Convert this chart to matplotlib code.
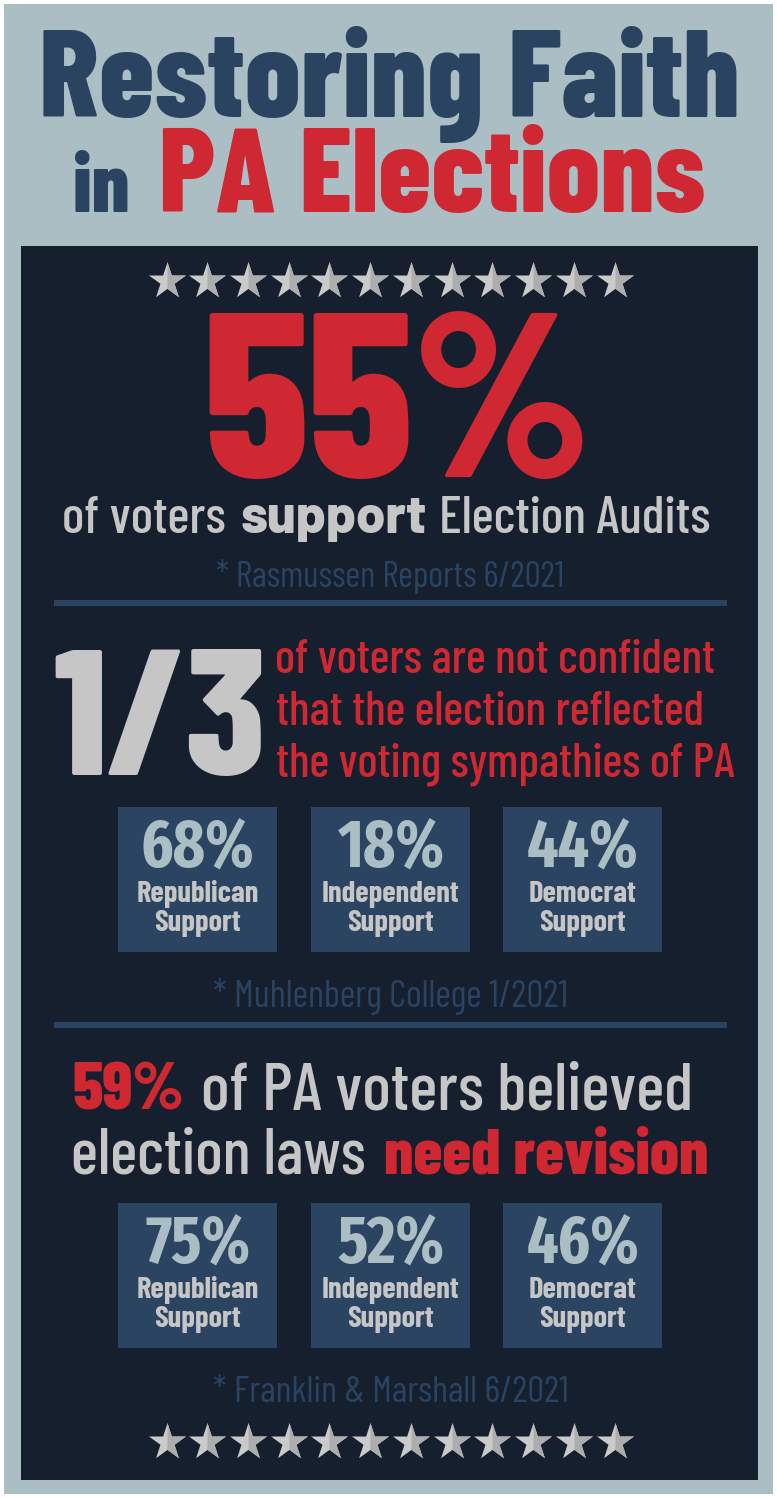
import matplotlib
matplotlib.use('Agg')
import matplotlib.pyplot as plt
import numpy as np
from matplotlib import font_manager as fm
from matplotlib.font_manager import FontProperties
from matplotlib.textpath import TextPath
from matplotlib.path import Path
from matplotlib.patches import Rectangle

# ---- content ----
title_top = "Restoring Faith"
title_in = "in"
title_red = "PA Elections"
audit_share = "55%"
audit_source = "* Rasmussen Reports 6/2021"
confidence_share = "1/3"
confidence_lines = ["of voters are not confident",
                    "that the election reflected",
                    "the voting sympathies of PA"]
parties = ["Republican", "Independent", "Democrat"]
confidence_pct = [68, 18, 44]
confidence_source = "* Muhlenberg College 1/2021"
revision_share = 59
revision_pct = [75, 52, 46]
revision_source = "* Franklin & Marshall 6/2021"
n_stars = 12

# ---- colours ----
BG = '#abbec4'
PANEL = '#161f2e'
NAVY = '#2a4361'
RED = '#cf2832'
GRAY = '#c6c6c6'
BOX = '#2b4462'

PX = 100 / 72  # pixels per point
avail = {f.name for f in fm.fontManager.ttflist}


def pick(*names):
    for n in names:
        if n in avail:
            return n
    return 'DejaVu Sans'


HEAVY = pick('Barlow Condensed', 'Roboto Condensed')
BODY = pick('Barlow Condensed', 'Roboto Condensed')
PCT = pick('Fira Sans Extra Condensed', 'Barlow Condensed', 'Roboto Condensed')
LABEL = pick('Barlow Condensed', 'Roboto Condensed')
WIDE = pick('Barlow', 'Lato')


def ink(s, family, weight):
    """ink box of a string at size 10 (points)"""
    fp = FontProperties(family=family, weight=weight)
    return TextPath((0, 0), s, size=10, prop=fp).get_extents()


def fit_fs(s, w, h, family, weight, a=0.75):
    # weighted mix of the width fit and the height fit
    bb = ink(s, family, weight)
    fw = 10 * w / (bb.width * PX)
    fh = 10 * h / (bb.y1 * PX)
    return fw ** a * fh ** (1 - a)


fig = plt.figure(figsize=(7.77, 14.98), dpi=100, facecolor='white')
ax = fig.add_axes([0, 0, 1, 1])
ax.set_xlim(0, 777)
ax.set_ylim(1498, 0)
ax.axis('off')

ax.add_patch(Rectangle((4, 4), 769, 1490, color=BG, lw=0))
ax.add_patch(Rectangle((21, 246), 737, 1234, color=PANEL, lw=0))


def draw(s, x, base, fs, color, weight, family, align='center'):
    bb = ink(s, family, weight)
    k = PX * fs / 10
    left = x - bb.width * k / 2 if align == 'center' else x
    ax.text(left - bb.x0 * k, base, s, color=color, fontsize=fs, fontweight=weight,
            family=family, ha='left', va='baseline')


def fit_draw(s, x0, x1, top, base, color, weight, family, align='center', a=0.75):
    fs = fit_fs(s, x1 - x0, base - top, family, weight, a)
    draw(s, (x0 + x1) / 2 if align == 'center' else x0, base, fs, color, weight,
         family, align)
    return fs


def rich_line(parts, x0, x1, top, base, gap=3.3, a=0.85):
    # parts: (text, colour, weight, family); gap in size-10 units (~0.33 em)
    boxes = [ink(s, f, w) for s, c, w, f in parts]
    cur, lefts = 0.0, []
    for i, bb in enumerate(boxes):
        if i:
            cur += gap
        lefts.append(cur)
        cur += bb.width
    total_h = max(bb.y1 for bb in boxes)
    fw = 10 * (x1 - x0) / (cur * PX)
    fh = 10 * (base - top) / (total_h * PX)
    fs = fw ** a * fh ** (1 - a)
    k = PX * fs / 10
    start = (x0 + x1) / 2 - cur * k / 2
    for (s, c, w, f), bb, l in zip(parts, boxes, lefts):
        ax.text(start + l * k - bb.x0 * k, base, s, color=c, fontsize=fs,
                fontweight=w, family=f, ha='left', va='baseline')


# star markers (full star + right half for shading)
ang_out = np.deg2rad(90 + 72 * np.arange(5))
ang_in = np.deg2rad(90 + 36 + 72 * np.arange(5))
r_in = 0.38
pts = []
for a, b in zip(ang_out, ang_in):
    pts.append((np.cos(a), np.sin(a)))
    pts.append((r_in * np.cos(b), r_in * np.sin(b)))
pts.append(pts[0])
star_full = Path(pts, closed=True)
half = [(0, 1),
        (r_in * np.cos(np.deg2rad(54)), r_in * np.sin(np.deg2rad(54))),
        (np.cos(np.deg2rad(18)), np.sin(np.deg2rad(18))),
        (r_in * np.cos(np.deg2rad(-18)), r_in * np.sin(np.deg2rad(-18))),
        (np.cos(np.deg2rad(-54)), np.sin(np.deg2rad(-54))),
        (0, -r_in), (0, 1)]
star_half = Path(half, closed=True)


def star_row(y):
    xs = np.linspace(166.5, 614.5, n_stars)
    ys = np.full(n_stars, y)
    ax.scatter(xs, ys, s=28 ** 2, marker=star_full, color='#cacaca', lw=0, zorder=3)
    ax.scatter(xs, ys, s=28 ** 2, marker=star_half, color='#adadad', lw=0, zorder=4)


# ---- title ----
fit_draw(title_top, 40, 740, 28, 117, NAVY, 800, HEAVY)
fit_draw(title_in, 74, 128, 155, 212, NAVY, 800, HEAVY)
fit_draw(title_red, 163, 703, 124, 212, RED, 800, HEAVY)

star_row(281)

# ---- section 1 ----
fit_draw(audit_share, 203, 589, 317, 477, RED, 800, HEAVY, a=0.5)
rich_line([("of voters", GRAY, 500, BODY), ("support", GRAY, 800, WIDE),
           ("Election Audits", GRAY, 500, BODY)], 65, 709, 495, 533)
fit_draw(audit_source, 215, 564, 561, 587, NAVY, 400, BODY)
ax.plot([54, 727], [603, 603], color=NAVY, lw=4.3, solid_capstyle='butt')

# ---- section 2 ----
fit_draw(confidence_share, 55, 262, 627, 775, GRAY, 800, HEAVY, align='left', a=1.0)
fs_red = fit_fs(confidence_lines[2], 456, 35, BODY, 500, a=0.9)
for line, y in zip(confidence_lines, [673, 725, 777]):
    draw(line, 277, y, fs_red, RED, 500, BODY, align='left')

box_x = [118, 311, 503]
box_w, box_h = 159, 145
fs_pct = fit_fs("68%", 110, 47, PCT, 700)
fs_lab = fit_fs("Republican", 117, 24, LABEL, 700)


def box_row(y0, pcts):
    for x, p, party in zip(box_x, pcts, parties):
        ax.add_patch(Rectangle((x, y0), box_w, box_h, color=BOX, lw=0))
        cx = x + box_w / 2
        draw(f"{p}%", cx, y0 + 60, fs_pct, BG, 700, PCT)
        draw(party, cx, y0 + 95, fs_lab, GRAY, 700, LABEL)
        draw("Support", cx, y0 + 124, fs_lab, GRAY, 700, LABEL)


box_row(807, confidence_pct)
fit_draw(confidence_source, 212, 569, 980, 1007, NAVY, 400, BODY)
ax.plot([54, 727], [1024.5, 1024.5], color=NAVY, lw=4.3, solid_capstyle='butt')

# ---- section 3 ----
rich_line([(f"{revision_share}%", RED, 800, HEAVY), ("of PA voters believed", GRAY, 500, BODY)],
          74, 690, 1049, 1109, a=1.0)
rich_line([("election laws", GRAY, 500, BODY), ("need revision", RED, 800, HEAVY)],
          74, 707, 1113, 1173, a=1.0)
box_row(1203, revision_pct)
fit_draw(revision_source, 212, 569, 1375, 1402, NAVY, 400, BODY)

star_row(1442)

fig.savefig('out.png', dpi=100, facecolor=fig.get_facecolor())
